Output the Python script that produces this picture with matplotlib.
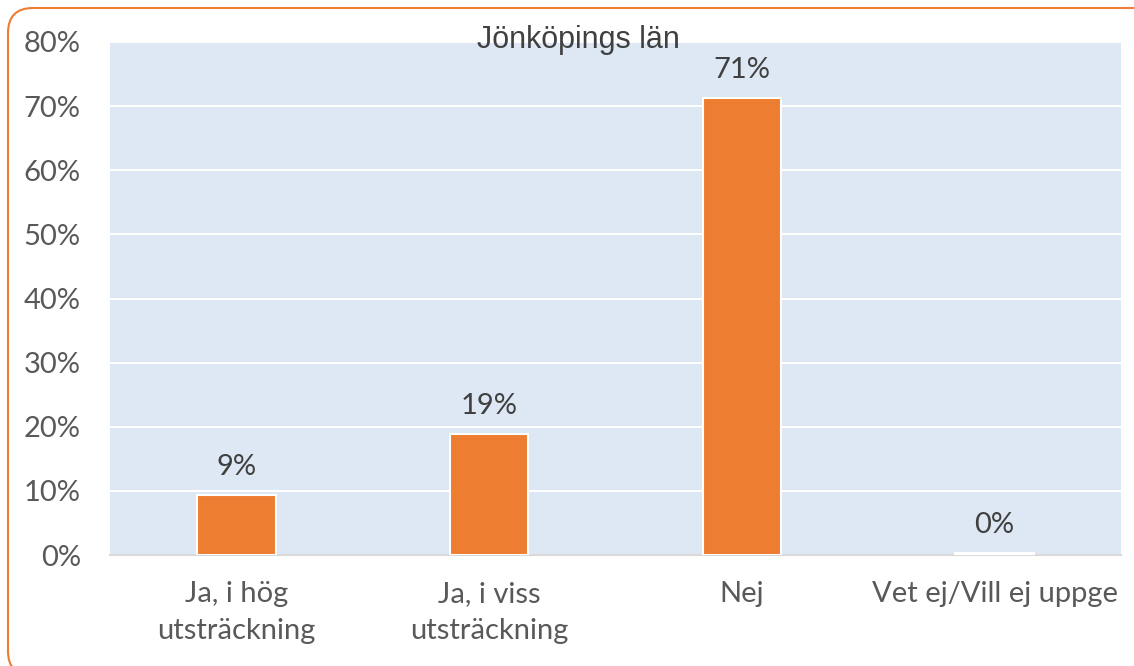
import matplotlib.pyplot as plt
from matplotlib.patches import FancyBboxPatch
from matplotlib.ticker import FuncFormatter

categories = ["Ja, i hög\nutsträckning", "Ja, i viss\nutsträckning", "Nej", "Vet ej/Vill ej uppge"]
values = [9.3, 18.8, 71.2, 0.3]
labels = ["9%", "19%", "71%", "0%"]
title = "Jönköpings län"

plt.rcParams['font.family'] = ['Lato', 'DejaVu Sans']

W, H = 1134, 666
fig = plt.figure(figsize=(W / 100, H / 100), dpi=100)

# plot area in pixels: left 110, right 1121, top 42, bottom 555
ax = fig.add_axes([110 / W, 1 - 555 / H, (1121 - 110) / W, (555 - 42) / H])
ax.set_facecolor("#dde8f4")

x = range(len(categories))
ax.bar(x, values, width=0.31, color="#ed7d31", edgecolor="white", linewidth=1.5, zorder=3)
for i, (v, t) in enumerate(zip(values, labels)):
    ax.annotate(t, (i, v), xytext=(0, 11), textcoords="offset points",
                ha="center", va="bottom", fontsize=21, color="#404040", zorder=4)

ax.set_xlim(-0.5, len(categories) - 0.5)
ax.set_ylim(0, 80)
ax.set_yticks(range(0, 81, 10))
ax.yaxis.set_major_formatter(FuncFormatter(lambda v, p: f"{int(v)}%"))
ax.grid(axis="y", color="white", linewidth=1.5, zorder=1)
ax.set_axisbelow(True)

ax.set_xticks(list(x))
ax.set_xticklabels(categories, fontsize=21, color="#595959", linespacing=1.5)
ax.tick_params(axis="y", labelsize=21, labelcolor="#595959", length=0, pad=21)
ax.tick_params(axis="x", length=0, pad=19)
for s in ["top", "right", "left"]:
    ax.spines[s].set_visible(False)
ax.spines["bottom"].set_color("#d9d9d9")
ax.spines["bottom"].set_linewidth(1.5)

fig.text(578 / W, 1 - 40 / H, title, ha="center", va="center", fontsize=22,
         color="#404040", family=["Liberation Sans", "DejaVu Sans"])

# rounded border, right and bottom edges run past the image
border = FancyBboxPatch((0.08, -0.10), 11.52, 6.68,
                        boxstyle="round,pad=0,rounding_size=0.25",
                        transform=fig.dpi_scale_trans, fill=False,
                        edgecolor="#ed7d31", linewidth=1.5)
fig.patches.append(border)

fig.savefig("out.png", dpi=100)
